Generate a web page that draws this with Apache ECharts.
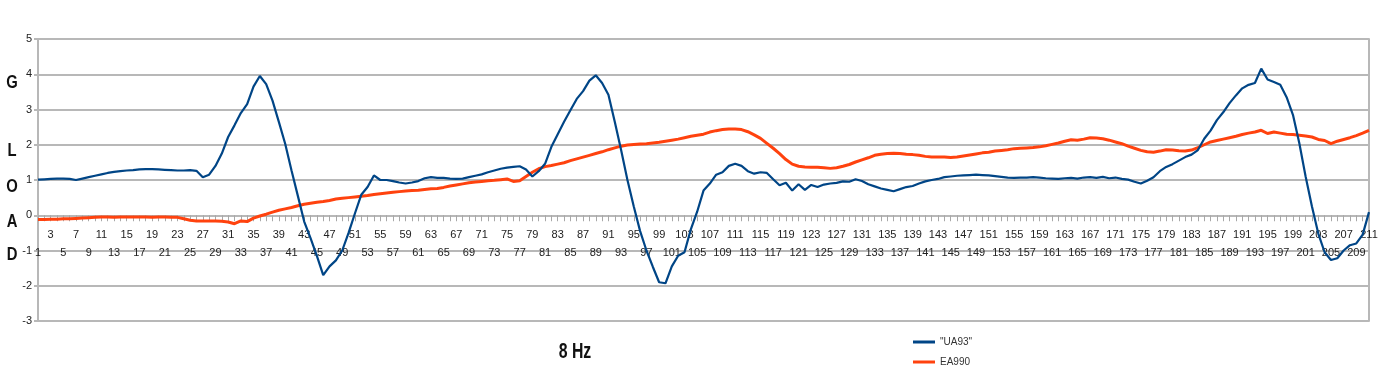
<!DOCTYPE html>
<html>
<head>
<meta charset="utf-8">
<script src="https://cdn.jsdelivr.net/npm/echarts@6/dist/echarts.min.js"></script>
<style>html,body{margin:0;padding:0;background:#fff}#c{width:1394px;height:375px}</style>
</head>
<body>
<div id="c"></div>
<script>
// categories 1..211 (sample index)
const categories = [];
for (let i = 1; i <= 211; i++) categories.push(String(i));

const yTicks = [-3, -2, -1, 0, 1, 2, 3, 4, 5];

const seriesNames = ['"UA93"', 'EA990'];

const ua93 = [
  1.01, 1.02, 1.03, 1.04, 1.04, 1.03, 1.00, 1.04, 1.08, 1.12,
  1.16, 1.20, 1.23, 1.25, 1.27, 1.28, 1.30, 1.31, 1.31, 1.30,
  1.29, 1.28, 1.27, 1.27, 1.28, 1.26, 1.08, 1.15, 1.40, 1.75,
  2.22, 2.55, 2.90, 3.15, 3.65, 3.95, 3.72, 3.25, 2.65, 2.03,
  1.27, 0.55, -0.18, -0.65, -1.15, -1.70, -1.45, -1.28, -1.00, -0.50,
  0.05, 0.58, 0.80, 1.13, 1.00, 1.00, 0.97, 0.93, 0.90, 0.93,
  0.97, 1.05, 1.08, 1.06, 1.06, 1.04, 1.03, 1.04, 1.08, 1.12,
  1.16, 1.22, 1.27, 1.32, 1.35, 1.37, 1.39, 1.30, 1.10, 1.25,
  1.46, 1.94, 2.30, 2.65, 2.98, 3.30, 3.52, 3.82, 3.97, 3.75,
  3.42, 2.65, 1.85, 1.00, 0.25, -0.45, -1.00, -1.46, -1.90, -1.93,
  -1.45, -1.15, -1.05, -0.40, 0.10, 0.70, 0.90, 1.15, 1.22, 1.40,
  1.46, 1.40, 1.25, 1.18, 1.22, 1.20, 1.02, 0.85, 0.92, 0.70,
  0.88, 0.72, 0.86, 0.80, 0.87, 0.90, 0.92, 0.96, 0.95, 1.02,
  0.97, 0.88, 0.82, 0.76, 0.72, 0.68, 0.74, 0.80, 0.83, 0.90,
  0.96, 1.00, 1.03, 1.08, 1.10, 1.12, 1.13, 1.14, 1.15, 1.14,
  1.13, 1.11, 1.09, 1.07, 1.06, 1.07, 1.07, 1.08, 1.07, 1.05,
  1.04, 1.03, 1.05, 1.06, 1.04, 1.07, 1.08, 1.06, 1.09, 1.05,
  1.07, 1.03, 1.01, 0.95, 0.90, 0.98, 1.08, 1.25, 1.37, 1.45,
  1.55, 1.65, 1.72, 1.85, 2.17, 2.40, 2.70, 2.92, 3.18, 3.40,
  3.60, 3.70, 3.75, 4.16, 3.85, 3.78, 3.70, 3.35, 2.85, 2.05,
  1.10, 0.25, -0.52, -1.05, -1.27, -1.22, -1.00, -0.85, -0.80, -0.55,
  0.09
];

const ea990 = [
  -0.12, -0.12, -0.11, -0.11, -0.10, -0.10, -0.09, -0.08, -0.07, -0.06,
  -0.05, -0.05, -0.06, -0.05, -0.05, -0.05, -0.05, -0.05, -0.06, -0.05,
  -0.05, -0.06, -0.06, -0.10, -0.14, -0.16, -0.16, -0.16, -0.16, -0.17,
  -0.19, -0.24, -0.16, -0.18, -0.08, -0.02, 0.03, 0.09, 0.14, 0.18,
  0.22, 0.27, 0.31, 0.34, 0.37, 0.39, 0.42, 0.46, 0.48, 0.50,
  0.52, 0.54, 0.56, 0.59, 0.61, 0.63, 0.65, 0.67, 0.69, 0.70,
  0.71, 0.73, 0.75, 0.76, 0.79, 0.83, 0.86, 0.89, 0.92, 0.94,
  0.96, 0.98, 0.99, 1.01, 1.03, 0.96, 0.98, 1.10, 1.22, 1.32,
  1.38, 1.41, 1.45, 1.49, 1.55, 1.60, 1.65, 1.70, 1.75, 1.80,
  1.86, 1.91, 1.96, 1.99, 2.01, 2.02, 2.03, 2.05, 2.07, 2.10,
  2.13, 2.16, 2.20, 2.24, 2.27, 2.30, 2.36, 2.40, 2.43, 2.45,
  2.45, 2.43, 2.37, 2.28, 2.18, 2.04, 1.90, 1.75, 1.58, 1.45,
  1.39, 1.37, 1.36, 1.36, 1.35, 1.33, 1.35, 1.39, 1.44, 1.51,
  1.57, 1.63, 1.70, 1.73, 1.75, 1.76, 1.75, 1.73, 1.72, 1.70,
  1.67, 1.65, 1.65, 1.65, 1.64, 1.65, 1.68, 1.71, 1.74, 1.77,
  1.79, 1.82, 1.84, 1.86, 1.89, 1.90, 1.91, 1.92, 1.94, 1.97,
  2.01, 2.05, 2.10, 2.14, 2.13, 2.16, 2.20, 2.19, 2.17, 2.13,
  2.08, 2.03, 1.96, 1.90, 1.84, 1.80, 1.79, 1.82, 1.86, 1.85,
  1.83, 1.82, 1.85, 1.92, 2.00, 2.08, 2.12, 2.16, 2.20, 2.24,
  2.29, 2.33, 2.36, 2.41, 2.32, 2.36, 2.33, 2.30, 2.29, 2.27,
  2.25, 2.22, 2.15, 2.12, 2.03, 2.10, 2.15, 2.20, 2.26, 2.33,
  2.41
];

const axisTitleLetters = ['G', 'L', 'O', 'A', 'D'];
const chartTitle = '8 Hz';

const SANS = '"Liberation Sans", Arial, sans-serif';
const GRID_COLOR = '#b8b8b8';

const GRID_TOP = 39, GRID_BOTTOM_PX = 321;
// the category axis sits at value 0: offset it up from the grid bottom
const zeroY = GRID_TOP + (GRID_BOTTOM_PX - GRID_TOP) * (yTicks[yTicks.length - 1] / (yTicks[yTicks.length - 1] - yTicks[0]));
const xOffset = -(GRID_BOTTOM_PX - zeroY);

const chart = echarts.init(document.getElementById('c'), null, { renderer: 'canvas' });

const letterY = [83, 151, 187, 222, 255];

chart.setOption({
  backgroundColor: '#ffffff',
  animation: false,
  grid: { left: 38, right: 25, top: GRID_TOP, bottom: 375 - GRID_BOTTOM_PX, containLabel: false },
  legend: {
    orient: 'vertical',
    left: 908,
    top: 332,
    itemGap: 10,
    itemWidth: 22,
    itemHeight: 3,
    icon: 'rect',
    data: [seriesNames[0], seriesNames[1]],
    textStyle: { fontFamily: SANS, fontSize: 10, color: '#333' }
  },
  xAxis: [
    {
      type: 'category',
      data: categories,
      boundaryGap: false,
      position: 'bottom',
      offset: xOffset,
      axisLine: { show: true, onZero: false, lineStyle: { color: GRID_COLOR, width: 2 } },
      axisTick: { show: true, interval: 0, length: 6, lineStyle: { color: '#a8a8a8', width: 1 } },
      axisLabel: {
        interval: function (idx) { return idx % 4 === 2; },
        margin: 14,
        hideOverlap: false,
        fontFamily: SANS, fontSize: 11, color: '#222'
      },
      splitLine: { show: false }
    },
    {
      type: 'category',
      data: categories,
      boundaryGap: false,
      position: 'bottom',
      offset: xOffset,
      axisLine: { show: false, onZero: false },
      axisTick: { show: false },
      axisLabel: {
        interval: function (idx) { return idx % 4 === 0; },
        margin: 32,
        hideOverlap: false,
        fontFamily: SANS, fontSize: 11, color: '#222'
      },
      splitLine: { show: false }
    }
  ],
  yAxis: [
    {
      type: 'value',
      min: yTicks[0],
      max: yTicks[yTicks.length - 1],
      interval: 1,
      axisLine: { show: true, onZero: false, lineStyle: { color: GRID_COLOR, width: 2 } },
      axisTick: { show: true, length: 4, lineStyle: { color: GRID_COLOR, width: 2 } },
      axisLabel: { margin: 6, fontFamily: SANS, fontSize: 11, color: '#222' },
      splitLine: { show: true, lineStyle: { color: GRID_COLOR, width: 2 } }
    },
    {
      type: 'value',
      position: 'right',
      min: yTicks[0],
      max: yTicks[yTicks.length - 1],
      interval: 1,
      axisLine: { show: true, onZero: false, lineStyle: { color: GRID_COLOR, width: 2 } },
      axisTick: { show: false },
      axisLabel: { show: false },
      splitLine: { show: false }
    }
  ],
  series: [
    {
      name: seriesNames[1],
      type: 'line',
      data: ea990,
      xAxisIndex: 0, yAxisIndex: 0,
      showSymbol: false, symbol: 'none',
      lineStyle: { color: '#ff420e', width: 3 },
      itemStyle: { color: '#ff420e' },
      z: 3
    },
    {
      name: seriesNames[0],
      type: 'line',
      data: ua93,
      xAxisIndex: 0, yAxisIndex: 0,
      showSymbol: false, symbol: 'none',
      lineStyle: { color: '#004586', width: 2.2 },
      itemStyle: { color: '#004586' },
      z: 4
    }
  ],
  graphic: axisTitleLetters.map(function (ch, i) {
    return {
      type: 'text', x: 12, y: letterY[i], scaleX: 0.78,
      style: { text: ch, x: 0, y: 0, textAlign: 'center', textVerticalAlign: 'middle',
               font: 'bold 19px ' + SANS, fill: '#111' }
    };
  }).concat([
    {
      type: 'text', x: 575, y: 352, scaleX: 0.72,
      style: { text: chartTitle, x: 0, y: 0, textAlign: 'center', textVerticalAlign: 'middle',
               font: 'bold 22px ' + SANS, fill: '#111' }
    }
  ])
});
</script>
</body>
</html>
